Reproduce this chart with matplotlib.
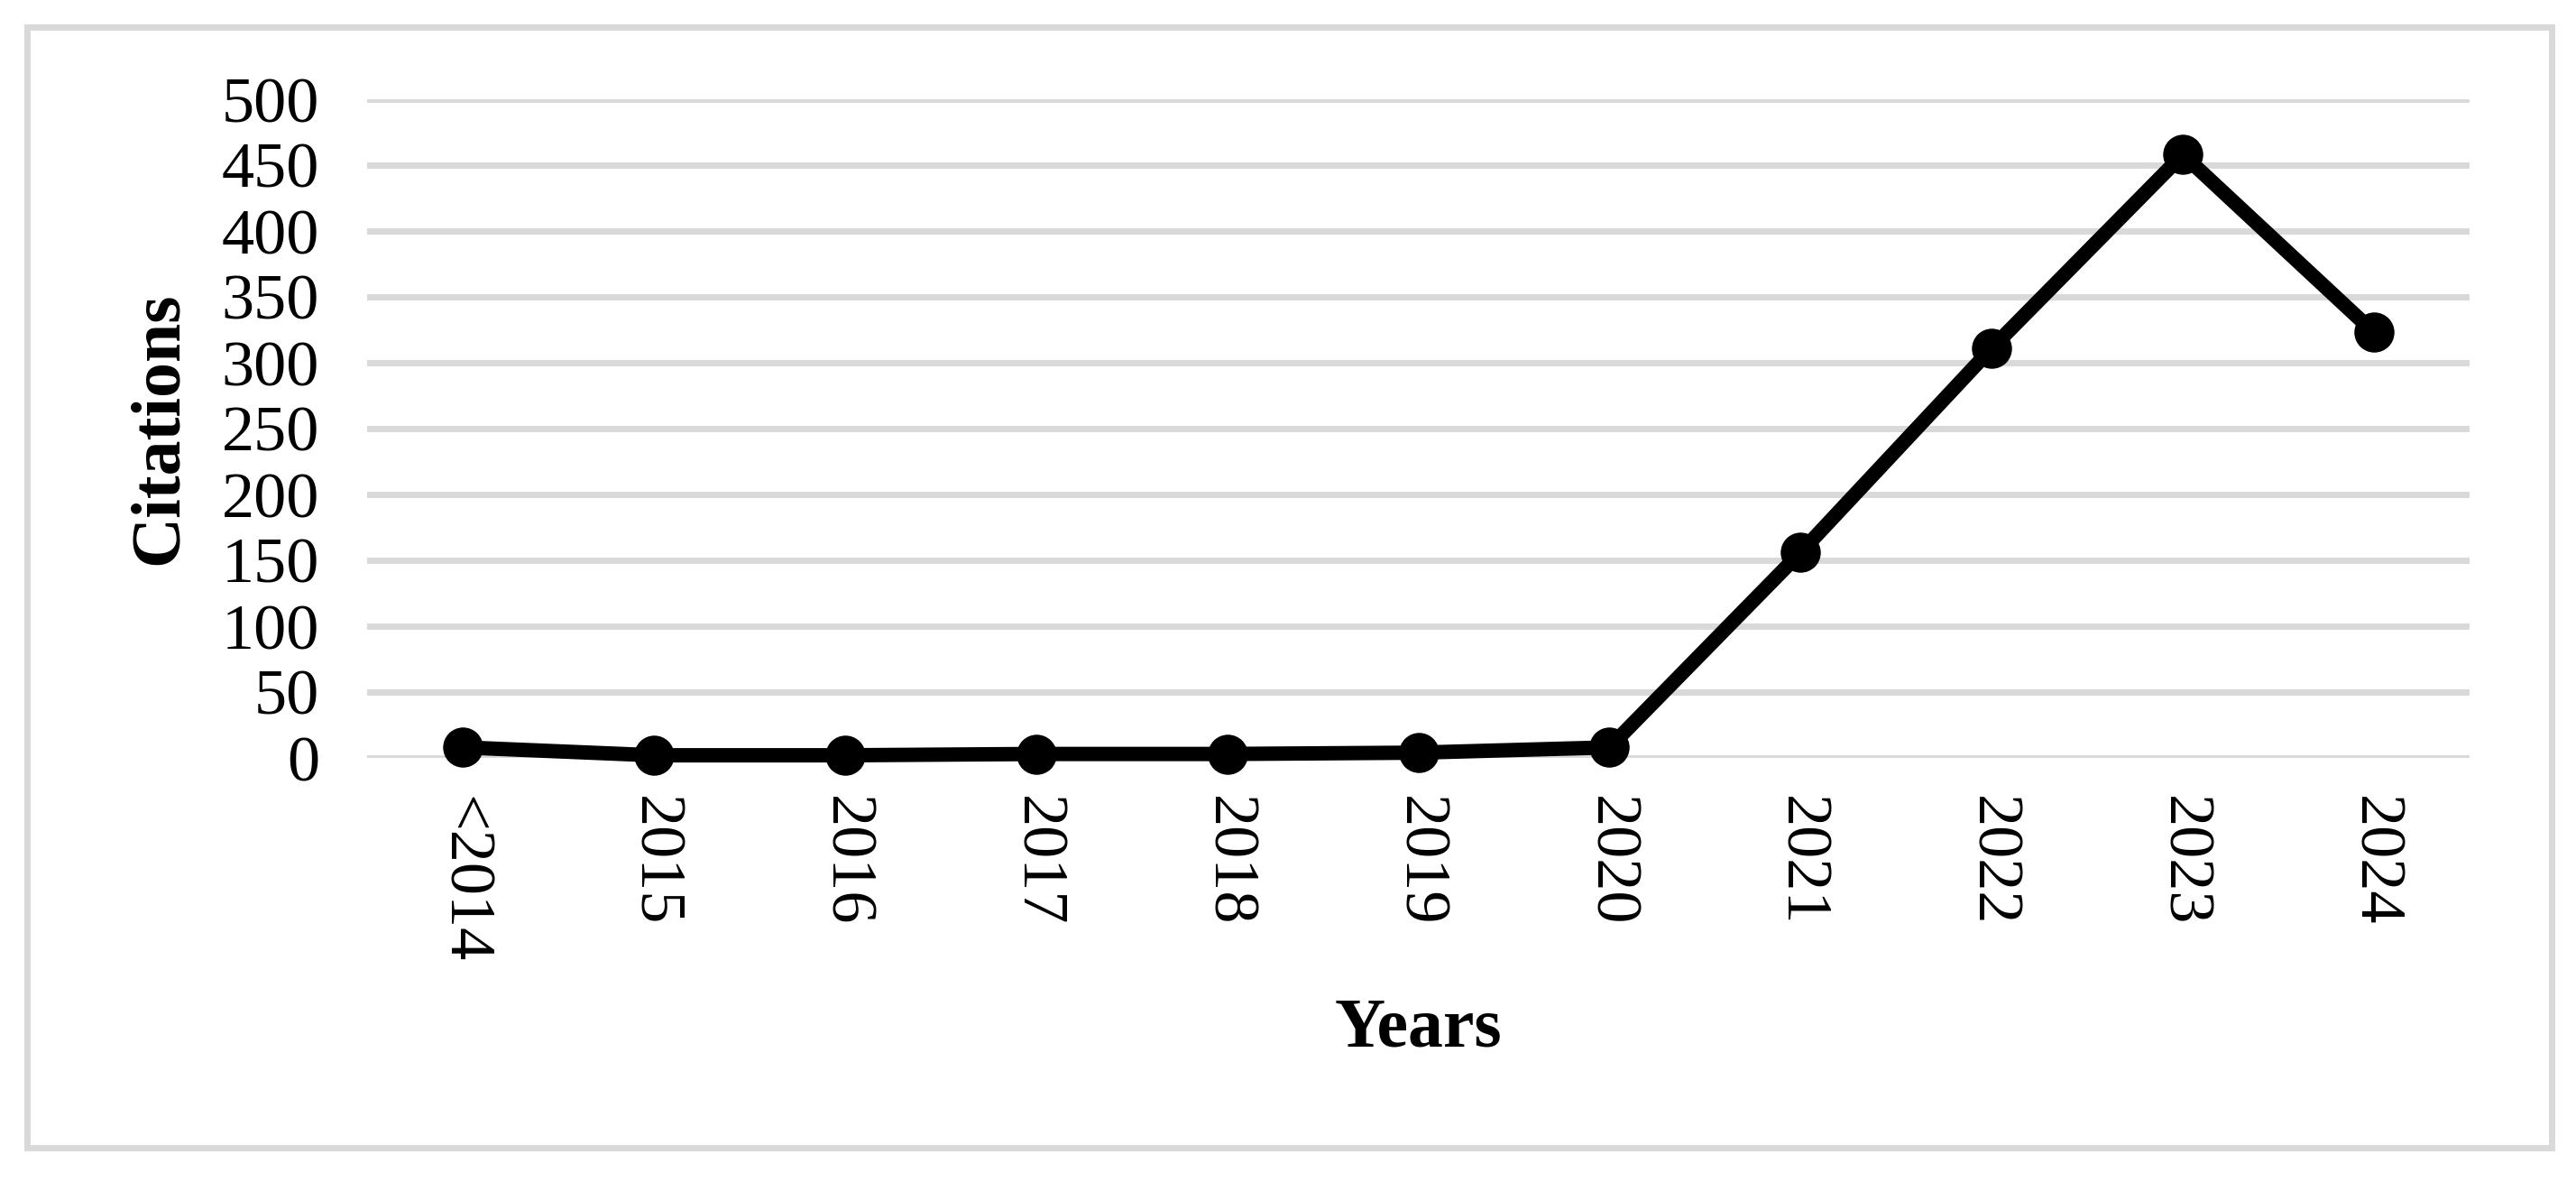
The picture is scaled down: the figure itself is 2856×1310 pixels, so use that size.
import matplotlib
matplotlib.use("Agg")
import matplotlib.pyplot as plt
from matplotlib.patches import Rectangle

years = ["<2014", "2015", "2016", "2017", "2018", "2019", "2020", "2021", "2022", "2023", "2024"]
citations = [8, 2, 2, 3, 3, 4, 8, 156, 311, 458, 323]
y_ticks = [0, 50, 100, 150, 200, 250, 300, 350, 400, 450, 500]

plt.rcParams['font.family'] = ['Liberation Serif', 'DejaVu Serif']

W, H, DPI = 2856, 1310, 100
fig = plt.figure(figsize=(W / DPI, H / DPI), dpi=DPI)

# outer light-grey frame
fig.patches.append(Rectangle((30 / W, 1 - 1272 / H), (2829 - 30) / W, (1272 - 30) / H,
                             transform=fig.transFigure, fill=False,
                             edgecolor='#d9d9d9', linewidth=5))

ax = fig.add_axes([407 / W, 1 - 840 / H, (2738 - 407) / W, (840 - 110) / H])

x = list(range(len(years)))
ax.plot(x, citations, color='black', linewidth=11.5, marker='o', markersize=32,
        markeredgewidth=0, solid_joinstyle='round', clip_on=False, zorder=3)

ax.set_xlim(-0.5, len(years) - 0.5)
ax.set_ylim(0, 500)
ax.set_yticks(y_ticks)
ax.set_xticks(x)
ax.set_xticklabels(years, rotation=-90)

ax.yaxis.grid(True, color='#d9d9d9', linewidth=5)
ax.set_axisbelow(True)
for s in ax.spines.values():
    s.set_visible(False)
ax.tick_params(axis='both', length=0, labelsize=52)
ax.tick_params(axis='y', pad=38)
ax.tick_params(axis='x', pad=30)

ax.set_ylabel("Citations", fontsize=56, fontweight='bold', va='center')
ax.yaxis.set_label_coords((177 - 407) / (2738 - 407), 0.5)
ax.set_xlabel("Years", fontsize=56, fontweight='bold', va='baseline')
ax.xaxis.set_label_coords(0.5, (840 - 1160) / 730)

fig.savefig("out.png", dpi=DPI, facecolor='white')
